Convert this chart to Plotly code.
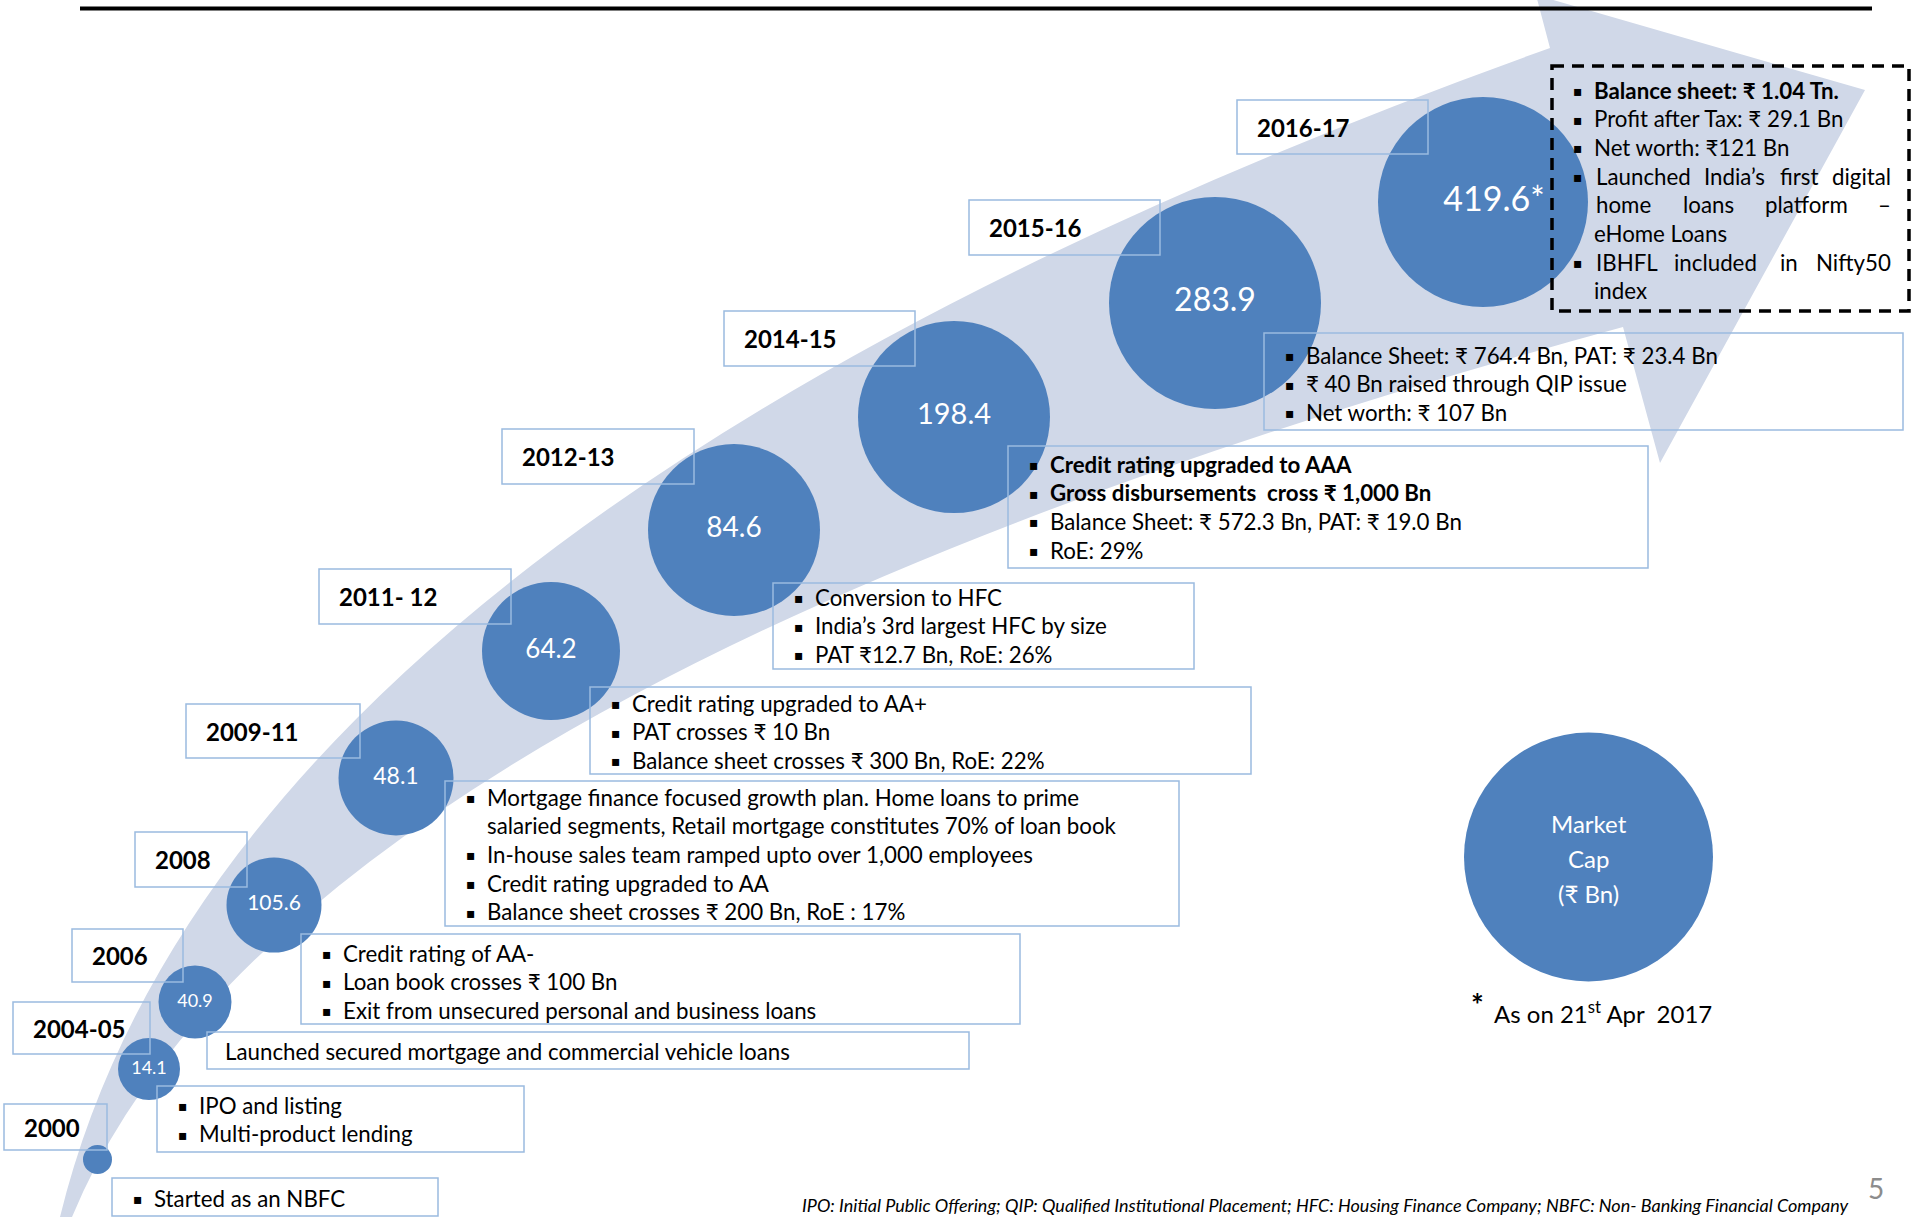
import plotly.graph_objects as go

# ---------------- data ----------------
years = ["2000", "2004-05", "2006", "2008", "2009-11", "2011- 12",
         "2012-13", "2014-15", "2015-16", "2016-17"]
market_cap = [None, 14.1, 40.9, 105.6, 48.1, 64.2, 84.6, 198.4, 283.9, 419.6]
latest_note = "*"

ms_2000 = ["Started as an NBFC"]
ms_2004 = ["IPO and listing", "Multi-product lending"]
ms_2006 = ["Launched secured mortgage and commercial vehicle loans"]
ms_2008 = ["Credit rating of AA-", "Loan book crosses ₹ 100 Bn",
           "Exit from unsecured personal and business loans"]
ms_2009 = ["Mortgage finance focused growth plan. Home loans to prime",
           "salaried segments, Retail mortgage constitutes 70% of loan book",
           "In-house sales team ramped upto over 1,000 employees",
           "Credit rating upgraded to AA",
           "Balance sheet crosses ₹ 200 Bn, RoE : 17%"]
ms_2011 = ["Credit rating upgraded to AA+", "PAT crosses ₹ 10 Bn",
           "Balance sheet crosses ₹ 300 Bn, RoE: 22%"]
ms_2012 = ["Conversion to HFC", "India’s 3rd largest HFC by size",
           "PAT ₹12.7 Bn, RoE: 26%"]
ms_2014 = ["Credit rating upgraded to AAA",
           "Gross disbursements \u00a0cross ₹ 1,000 Bn",
           "Balance Sheet: ₹ 572.3 Bn, PAT: ₹ 19.0 Bn", "RoE: 29%"]
ms_2015 = ["Balance Sheet: ₹ 764.4 Bn, PAT: ₹ 23.4 Bn",
           "₹ 40 Bn raised through QIP issue", "Net worth: ₹ 107 Bn"]
ms_2016 = ["Balance sheet: ₹ 1.04 Tn.", "Profit after Tax: ₹ 29.1 Bn",
           "Net worth: ₹121 Bn",
           "Launched India’s first digital", "home loans platform –", "eHome Loans",
           "IBHFL included in Nifty50", "index"]
milestones = [ms_2000, ms_2004, ms_2006, ms_2008, ms_2009, ms_2011,
              ms_2012, ms_2014, ms_2015, ms_2016]

legend_lines = ["Market", "Cap", "(₹ Bn)"]
asof_text = "As on 21<sup>st</sup> Apr \u00a02017"
footnote = ("IPO: Initial Public Offering; QIP: Qualified Institutional Placement; "
            "HFC: Housing Finance Company; NBFC: Non- Banking Financial Company")
page_no = "5"

# ---------------- layout / style (pixel positions) ----------------
W, H = 1911, 1217
FONT = "Lato"
BLUE = "#4F81BD"
BAND = "#D0D8E8"
BORDER = "#9BBBE0"

cx = [97.5, 149, 195, 274, 396, 551, 734, 954, 1215, 1483]
cy = [1159.5, 1069, 1002, 905, 778, 651, 530, 417, 303, 202]
diam = [29, 62, 73, 95, 115, 138, 172, 192, 212, 210]
lab_size = [18, 18, 18, 21, 23, 26, 28, 29, 32, 34]
lab_dx = [0, 0, 0, 0, 0, 0, 0, 0, 0, 11]

year_box = [(4, 1104, 107, 1150), (13, 1002, 150, 1054), (72, 929, 183, 982),
            (135, 832, 247, 887), (186, 704, 360, 758), (319, 569, 511, 624),
            (502, 429, 694, 484), (724, 311, 915, 366), (969, 200, 1160, 255),
            (1237, 100, 1428, 154)]
ms_box = [(112, 1178, 438, 1216), (157, 1086, 524, 1152), (207, 1032, 969, 1069),
          (301, 934, 1020, 1024), (445, 781, 1179, 926), (590, 687, 1251, 774),
          (773, 583, 1194, 669), (1008, 446, 1648, 568), (1264, 333, 1903, 430),
          (1552, 66, 1909, 311)]
ms_first_y = [1198, 1105, 1051, 953, 797, 703, 597, 464, 355, 90]
LINE_H = 28.7
TXT = 22.3

fig = go.Figure()

# arrow band
band_path = ("M 60,1217 Q 230,520 1550,48 L 1536,-5 L 1865,90 L 1660,463 "
             "L 1623,327 Q 290,690 72,1217 Z")
fig.add_shape(type="path", path=band_path, xref="x", yref="y",
              fillcolor=BAND, line=dict(width=0), layer="below")

# bubbles (size/position from layout lists, values drawn as text labels)
fig.add_trace(go.Scatter(
    x=cx, y=cy, mode="markers",
    marker=dict(size=diam, color=BLUE, line=dict(width=0), opacity=1),
    hoverinfo="skip", cliponaxis=False, showlegend=False))

labels = [f"{v}" for v in market_cap if v is not None]
labels[-1] = labels[-1] + latest_note
idx = [i for i, v in enumerate(market_cap) if v is not None]
fig.add_trace(go.Scatter(
    x=[cx[i] + lab_dx[i] for i in idx], y=[cy[i] for i in idx], mode="text",
    text=labels, textposition="middle center",
    textfont=dict(family=FONT, size=[lab_size[i] for i in idx], color="white"),
    hoverinfo="skip", cliponaxis=False, showlegend=False))

# legend bubble
fig.add_trace(go.Scatter(
    x=[1588.5], y=[857], mode="markers",
    marker=dict(size=249, color=BLUE, line=dict(width=0)),
    hoverinfo="skip", cliponaxis=False, showlegend=False))


def ann(x, y, text, size=TXT, color="black", xanchor="left", family=FONT):
    fig.add_annotation(x=x, y=y, xref="x", yref="y", text=text, showarrow=False,
                       xanchor=xanchor, yanchor="middle", borderpad=0,
                       font=dict(family=family, size=size, color=color))


# year boxes
for (x0, y0, x1, y1), yr in zip(year_box, years):
    fig.add_shape(type="rect", x0=x0, y0=y0, x1=x1, y1=y1, xref="x", yref="y",
                  line=dict(color=BORDER, width=1.5), fillcolor="rgba(0,0,0,0)",
                  layer="above")
    ann(x0 + 19, (y0 + y1) / 2, f"<b>{yr}</b>", size=24)

# milestone boxes
bullet_rules = {
    0: [True], 1: [True, True], 2: [False], 3: [True] * 3,
    4: [True, False, True, True, True], 5: [True] * 3, 6: [True] * 3,
    7: [True] * 4, 8: [True] * 3,
    9: [True, True, True, True, False, False, True, False],
}
bold_rules = {7: [0, 1], 9: [0]}
justified = {9: {3: [1595, 1703, 1779, 1892], 4: [1595, 1682, 1764, 1892],
                 6: [1595, 1673, 1779, 1892]}}

for i, ((x0, y0, x1, y1), lines) in enumerate(zip(ms_box, milestones)):
    if i == 9:
        fig.add_shape(type="rect", x0=x0, y0=y0, x1=x1, y1=y1, xref="x", yref="y",
                      line=dict(color="black", width=3.5, dash="12px,8px"),
                      fillcolor="rgba(0,0,0,0)", layer="above")
    else:
        fig.add_shape(type="rect", x0=x0, y0=y0, x1=x1, y1=y1, xref="x", yref="y",
                      line=dict(color=BORDER, width=1.5), fillcolor="rgba(0,0,0,0)",
                      layer="above")
    for j, line in enumerate(lines):
        y = ms_first_y[i] + j * LINE_H
        has_bullet = bullet_rules[i][j]
        tx = x0 + 41 if (has_bullet or i in (4, 9)) else x0 + 17
        if has_bullet:
            ann(x0 + 26, y + 1, "▪", size=14, xanchor="center", family="DejaVu Sans")
        bold = j in bold_rules.get(i, [])
        if i in justified and j in justified[i]:
            words = line.split(" ")
            pos = justified[i][j]
            for k, w in enumerate(words):
                if k == len(words) - 1:
                    ann(pos[k], y, w, xanchor="right")
                else:
                    ann(pos[k], y, w)
        else:
            ann(tx, y, f"<b>{line}</b>" if bold else line)

# legend text
for k, t in enumerate(legend_lines):
    ann(1588.5, 823 + k * 35, t, size=24, color="white", xanchor="center")
ann(1470, 1004, "<b>*</b>", size=30)
ann(1493, 1012, asof_text, size=24)

# footnote & page number
ann(1849, 1205, f"<i>{footnote}</i>", size=18, xanchor="right")
ann(1876, 1188, page_no, size=28, color="#8C8C8C", xanchor="center")

# top rule
fig.add_shape(type="line", x0=80, x1=1872, y0=8.5, y1=8.5, xref="x", yref="y",
              line=dict(color="black", width=4), layer="above")

fig.update_layout(
    width=W, height=H, margin=dict(l=0, r=0, t=0, b=0),
    paper_bgcolor="white", plot_bgcolor="white",
    xaxis=dict(range=[0, W], visible=False, fixedrange=True),
    yaxis=dict(range=[H, 0], visible=False, fixedrange=True),
    showlegend=False,
)

fig.write_html("out.html", config={"displayModeBar": False},
               post_script="document.body.style.margin='0';")
